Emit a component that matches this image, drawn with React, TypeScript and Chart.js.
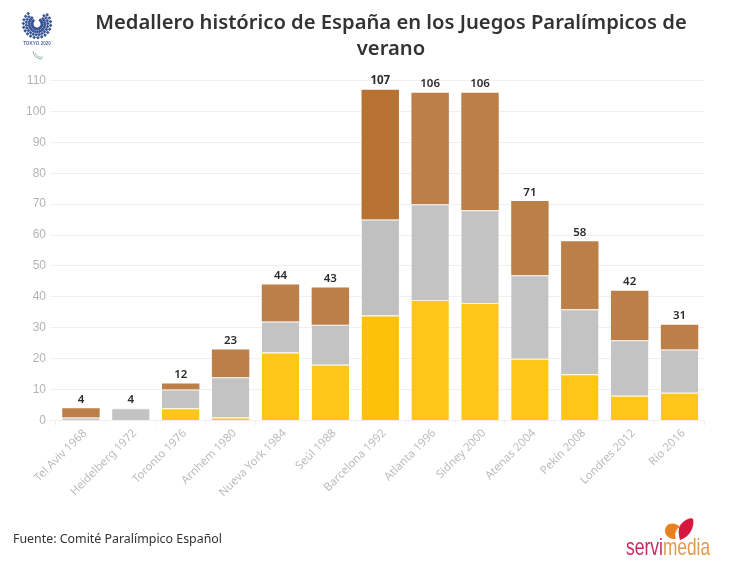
import { useEffect, useRef } from "react";
import { Chart, registerables } from "chart.js";

Chart.register(...registerables);

const categories = [
  "Tel Aviv 1968", "Heidelberg 1972", "Toronto 1976", "Arnhem 1980", "Nueva York 1984",
  "Seúl 1988", "Barcelona 1992", "Atlanta 1996", "Sidney 2000", "Atenas 2004",
  "Pekín 2008", "Londres 2012", "Río 2016",
];
const oro = [0, 0, 4, 1, 22, 18, 34, 39, 38, 20, 15, 8, 9];
const plata = [1, 4, 6, 13, 10, 13, 31, 31, 30, 27, 21, 18, 14];
const bronce = [3, 0, 2, 9, 12, 12, 42, 36, 38, 24, 22, 16, 8];
const totales = [4, 4, 12, 23, 44, 43, 107, 106, 106, 71, 58, 42, 31];

const BARCELONA = 6;
const colorFor = (normal: string, dark: string) =>
  categories.map((_, i) => (i === BARCELONA ? dark : normal));

const totalLabels = {
  id: "totalLabels",
  afterDatasetsDraw(chart: any) {
    const { ctx, scales } = chart;
    ctx.save();
    ctx.fillStyle = "#2b2b2b";
    ctx.textAlign = "center";
    ctx.textBaseline = "bottom";
    totales.forEach((t, i) => {
      ctx.font = i === BARCELONA ? "700 11.5px 'Noto Sans'" : "600 11.5px 'Noto Sans'";
      ctx.fillText(String(t), scales.x.getPixelForValue(i), scales.y.getPixelForValue(t) - 3);
    });
    ctx.restore();
  },
};

// emblem built as a wreath of small diamonds, open at the top
const TokyoLogo = () => {
  const dots = [];
  for (let row = 0; row < 4; row++) {
    const r = 5 + row * 2.9;
    for (let a = -50 + (row % 2) * 8; a <= 230; a += 16) {
      const rad = (a * Math.PI) / 180;
      const px = 17 + r * Math.cos(rad);
      const py = 15 + r * Math.sin(-rad) * -1;
      dots.push(
        <rect key={`${row}-${a}`} x={px - 1.3} y={py - 1.3} width={2.6} height={2.6} fill="#3a5596"
          transform={`rotate(45 ${px} ${py})`} />
      );
    }
  }
  return (
    <svg width={36} height={54} style={{ position: "absolute", left: 20, top: 9 }}>
      <g>{dots}</g>
      <text x={17} y={36} fontSize={4.6} fontWeight={700} fill="#5a6ea3" textAnchor="middle" fontFamily="Liberation Sans">TOKYO 2020</text>
      <path d="M13 42 q1 8 9 8" stroke="#9ab" strokeWidth={1} fill="none" />
      <path d="M15 44 q2 5 8 4" stroke="#8b9" strokeWidth={0.8} fill="none" />
    </svg>
  );
};

const ServimediaLogo = () => (
  <svg width={100} height={50} style={{ position: "absolute", left: 620, top: 513 }}>
    <path d="M56 26 C47 27 43 19 46 14 C49 9 56 10 60 14 C56 16 54 21 56 26 Z" fill="#e8821e" />
    <path d="M60 27 C70 24 75 13 73 6 C72 4 66 6 62 10 C58 14 58 20 60 27 Z" fill="#d8173f" />
    <text x={6} y={42} fontSize={24} textLength={37} lengthAdjust="spacingAndGlyphs" fontFamily="Liberation Sans" fill="#c72a5c">servi</text>
    <text x={43} y={42} fontSize={24} textLength={47} lengthAdjust="spacingAndGlyphs" fontFamily="Liberation Sans" fill="#e39a4a">media</text>
  </svg>
);

const App = () => {
  const canvasRef = useRef<HTMLCanvasElement>(null);

  useEffect(() => {
    if (!canvasRef.current) return;
    const chart = new Chart(canvasRef.current, {
      type: "bar",
      data: {
        labels: categories,
        datasets: [
          { label: "Oro", data: oro, backgroundColor: colorFor("#fec619", "#fec10a"), borderColor: "#fff3cf", borderWidth: { top: 1 }, borderSkipped: false },
          { label: "Plata", data: plata, backgroundColor: colorFor("#c3c3c3", "#c0c0c0"), borderColor: "#f2f2f2", borderWidth: { top: 1 }, borderSkipped: false },
          { label: "Bronce", data: bronce, backgroundColor: colorFor("#bd7f48", "#b87333"), borderWidth: 0 },
        ],
      },
      options: {
        responsive: false,
        animation: false,
        layout: { padding: { top: 80.5, right: 40.5, left: 0, bottom: 0 } },
        plugins: { legend: { display: false }, title: { display: false }, tooltip: { enabled: false } },
        scales: {
          x: {
            stacked: true,
            afterFit: (s: any) => { s.height = 146.5; },
            grid: { color: "#f0f0f0", drawOnChartArea: false, tickLength: 5 },
            border: { color: "#eeeeee" },
            ticks: { color: "#bcbcbc", font: { family: "'Noto Sans'", size: 11.4 }, maxRotation: 45, minRotation: 45, padding: 1, labelOffset: 4 },
          },
          y: {
            stacked: true,
            min: 0,
            max: 110,
            afterFit: (s: any) => { s.width = 56; },
            grid: { color: "#f0f0f0", tickLength: 6 },
            border: { display: false },
            ticks: { stepSize: 10, color: "#b4b4b4", font: { family: "'Liberation Sans'", size: 12 }, padding: 4 },
          },
        },
        datasets: { bar: { categoryPercentage: 0.75, barPercentage: 1 } },
      } as any,
      plugins: [totalLabels],
    });

    return () => {
      chart.destroy();
    };
  }, []);

  return (
    <div style={{ position: "absolute", left: 0, top: 0, width: 745, height: 567, background: "#fff", overflow: "hidden" }}>
      <canvas ref={canvasRef} width={745} height={567} style={{ display: "block" }} />
      <div style={{ position: "absolute", left: 66, width: 650, top: 8, textAlign: "center", font: "600 20.2px/26px 'Noto Sans'", color: "#333" }}>
        Medallero histórico de España en los Juegos Paralímpicos de verano
      </div>
      <div style={{ position: "absolute", left: 13, top: 530, font: "12.4px 'Noto Sans'", color: "#333" }}>
        Fuente: Comité Paralímpico Español
      </div>
      <TokyoLogo />
      <ServimediaLogo />
    </div>
  );
};

export default App;
